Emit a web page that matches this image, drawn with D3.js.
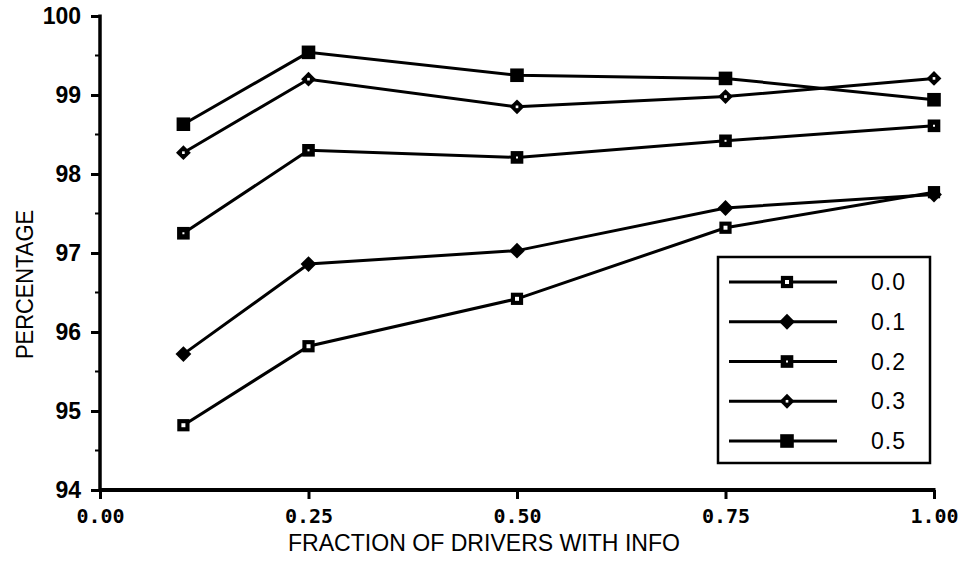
<!DOCTYPE html>
<html>
<head>
<meta charset="utf-8">
<script src="https://cdn.jsdelivr.net/npm/d3@7"></script>
<style>
  body { margin: 0; background: #fff; }
  svg { display: block; }
</style>
</head>
<body>
<svg id="chart" width="970" height="563"></svg>
<script>
// x positions (fraction of drivers with info)
const fractions = [0.1, 0.25, 0.5, 0.75, 1.0]

// series names as in legend
const seriesNames = ['0.0', '0.1', '0.2', '0.3', '0.5']

// percentage values
const s00 = [94.82, 95.82, 96.42, 97.32, 97.77]
const s01 = [95.72, 96.86, 97.03, 97.57, 97.74]
const s02 = [97.25, 98.30, 98.21, 98.42, 98.61]
const s03 = [98.27, 99.20, 98.85, 98.98, 99.21]
const s05 = [98.63, 99.54, 99.25, 99.21, 98.94]

const xTicks = [0, 0.25, 0.5, 0.75, 1.0]
const yTicks = [94, 95, 96, 97, 98, 99, 100]
const yMinor = [94.5, 95.5, 96.5, 97.5, 98.5, 99.5]

const series = [s00, s01, s02, s03, s05]
// marker per series: square size, rotation (45 = diamond), inner white dot size
const markers = [
    {size: 150, rotate: 0, dot: 16},
    {size: 125, rotate: 45, dot: 0},
    {size: 160, rotate: 0, dot: 4},
    {size: 110, rotate: 45, dot: 7},
    {size: 185, rotate: 0, dot: 0}
]

const svg = d3.select('#chart')

const x = d3.scaleLinear().domain([0, 1]).range([100, 934])
const y = d3.scaleLinear().domain([94, 100]).range([490, 16])

/**
 * draws one marker at (cx, cy)
 */
const drawMarker = (g, m, cx, cy) => {
    g.append('path')
        .attr('transform', `translate(${cx},${cy})rotate(${m.rotate})`)
        .attr('d', d3.symbol().type(d3.symbolSquare).size(m.size)())
        .style('fill', 'black')
    if (m.dot > 0) {
        g.append('path')
            .attr('transform', `translate(${cx},${cy})`)
            .attr('d', d3.symbol().type(d3.symbolSquare).size(m.dot)())
            .style('fill', 'white')
    }
}

// y axis
const yAxis = svg.append('g')
    .attr('transform', 'translate(100,0)')
    .call(d3.axisLeft(y).tickValues(yTicks).tickSize(9).tickPadding(10).tickFormat(d3.format('d')))
yAxis.select('.domain').remove()
yAxis.selectAll('line').style('stroke', 'black').style('stroke-width', 3)
yAxis.selectAll('text')
    .style('font', 'bold 23px "Liberation Sans", Arial, sans-serif')
    .attr('fill', 'black')

svg.append('g')
    .selectAll('line')
    .data(yMinor)
    .enter()
    .append('line')
        .attr('x1', 95).attr('x2', 100)
        .attr('y1', d => y(d)).attr('y2', d => y(d))
        .style('stroke', 'black')
        .style('stroke-width', 2)

svg.append('line')
    .attr('x1', 100).attr('x2', 100)
    .attr('y1', y(100) - 1.5).attr('y2', y(94) + 1.5)
    .style('stroke', 'black').style('stroke-width', 3.5)

// x axis
const xAxis = svg.append('g')
    .attr('transform', `translate(0,${y(94)})`)
    .call(d3.axisBottom(x).tickValues(xTicks).tickSize(9).tickPadding(10).tickFormat(d3.format('.2f')))
xAxis.select('.domain').remove()
xAxis.selectAll('line').style('stroke', 'black').style('stroke-width', 3)
xAxis.selectAll('text')
    .style('font', 'bold 20px "DejaVu Sans Mono", monospace')
    .attr('fill', 'black')

svg.append('line')
    .attr('x1', 100).attr('x2', x(1) + 1.5)
    .attr('y1', y(94)).attr('y2', y(94))
    .style('stroke', 'black').style('stroke-width', 4)

// axis titles
svg.append('text')
    .attr('x', 288).attr('y', 551)
    .attr('textLength', 392)
    .attr('lengthAdjust', 'spacingAndGlyphs')
    .style('font', '24px "Liberation Sans", Arial, sans-serif')
    .text('FRACTION OF DRIVERS WITH INFO')

svg.append('text')
    .attr('transform', 'translate(33,359)rotate(-90)')
    .attr('textLength', 149)
    .attr('lengthAdjust', 'spacingAndGlyphs')
    .style('font', '24px "Liberation Sans", Arial, sans-serif')
    .text('PERCENTAGE')

// lines and markers
const line = d3.line()
    .x((d, i) => x(fractions[i]))
    .y(d => y(d))

series.forEach((s, i) => {
    svg.append('path')
        .datum(s)
        .attr('d', line)
        .style('fill', 'none')
        .style('stroke', 'black')
        .style('stroke-width', 3)
})
series.forEach((s, i) => {
    const g = svg.append('g')
    s.forEach((v, j) => drawMarker(g, markers[i], x(fractions[j]), y(v)))
})

// legend
const legend = svg.append('g')
legend.append('rect')
    .attr('x', 718).attr('y', 257)
    .attr('width', 212).attr('height', 206)
    .style('fill', 'white')
    .style('stroke', 'black')
    .style('stroke-width', 2.5)

const ly = d3.scalePoint().domain(seriesNames).range([282, 441])
seriesNames.forEach((name, i) => {
    legend.append('line')
        .attr('x1', 729).attr('x2', 837)
        .attr('y1', ly(name)).attr('y2', ly(name))
        .style('stroke', 'black').style('stroke-width', 3)
    drawMarker(legend, markers[i], 787, ly(name))
    legend.append('text')
        .attr('x', 871).attr('y', ly(name) + 8)
        .style('font', '23px "Liberation Sans", Arial, sans-serif')
        .style('letter-spacing', '1px')
        .text(name)
})
</script>
</body>
</html>
